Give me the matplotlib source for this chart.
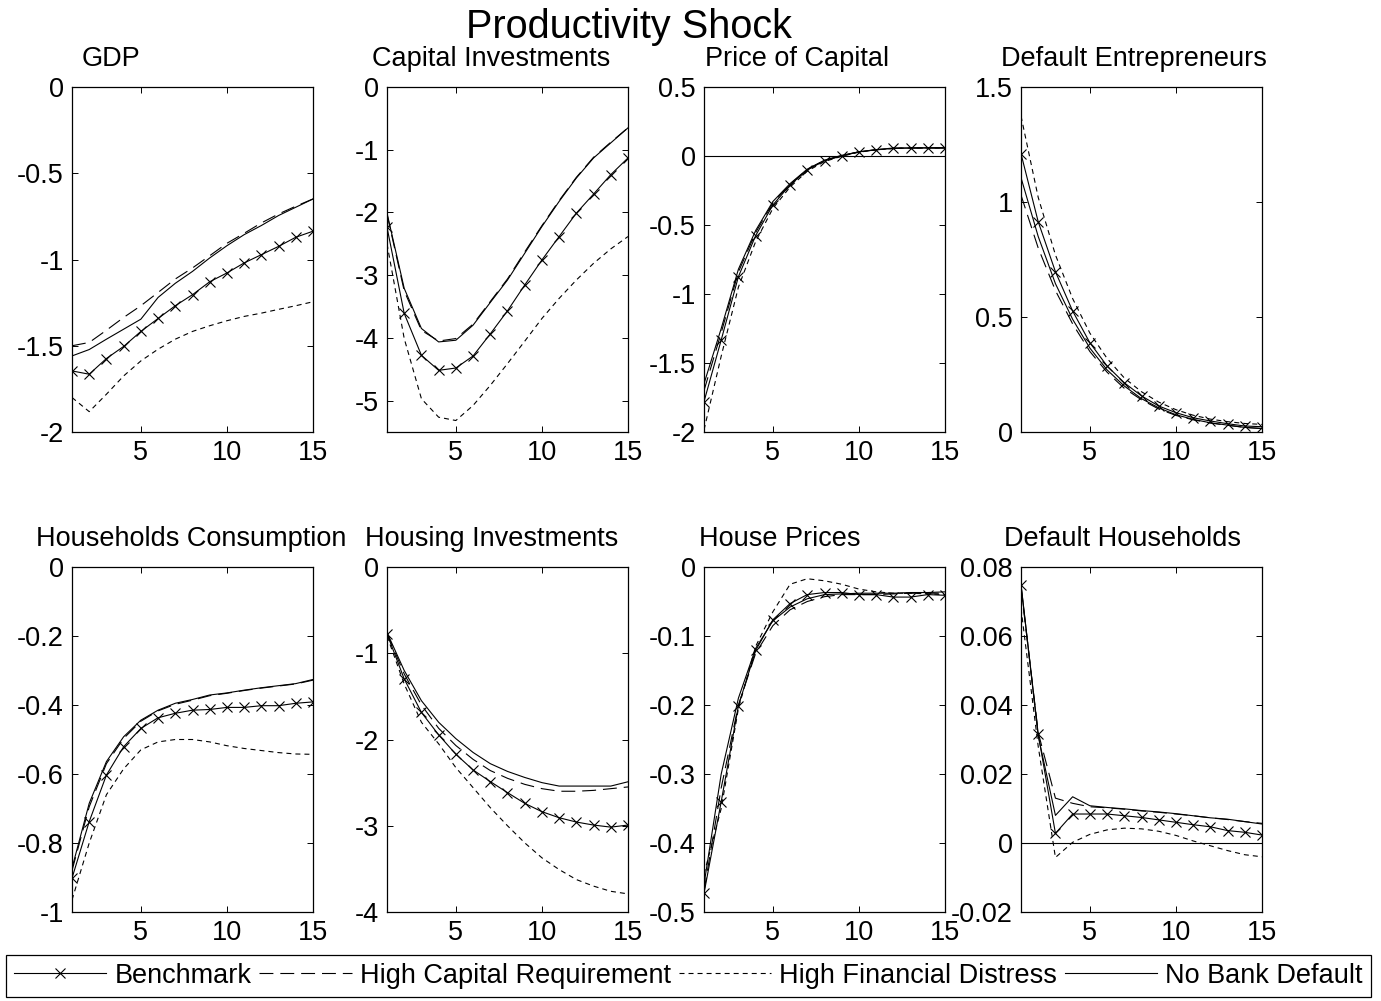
import numpy as np
import matplotlib
matplotlib.use("Agg")
import matplotlib.pyplot as plt
from matplotlib.ticker import FormatStrFormatter
from matplotlib.lines import Line2D

plt.rcParams['font.family'] = ['Liberation Sans', 'DejaVu Sans']
plt.rcParams['axes.unicode_minus'] = False
plt.rcParams['lines.scale_dashes'] = False

# horizonte de la respuesta (trimestres)
t = np.arange(1, 16)

series_names = ["Benchmark", "High Capital Requirement", "High Financial Distress", "No Bank Default"]

# --- respuestas al shock de productividad ---
gdp_bench = [-1.646, -1.665, -1.574, -1.504, -1.417, -1.342, -1.268, -1.204, -1.129, -1.078, -1.020, -0.972, -0.924, -0.871, -0.836]
gdp_hcr = [-1.500, -1.481, -1.410, -1.336, -1.268, -1.191, -1.113, -1.049, -0.978, -0.906, -0.848, -0.788, -0.736, -0.691, -0.649]
gdp_hfd = [-1.800, -1.882, -1.781, -1.675, -1.588, -1.520, -1.462, -1.417, -1.384, -1.355, -1.330, -1.311, -1.289, -1.268, -1.245]
gdp_nbd = [-1.559, -1.522, -1.462, -1.404, -1.346, -1.220, -1.138, -1.069, -0.991, -0.920, -0.856, -0.803, -0.745, -0.697, -0.649]

kinv_bench = [-2.235, -3.61, -4.277, -4.517, -4.48, -4.288, -3.936, -3.568, -3.157, -2.757, -2.384, -2.011, -1.707, -1.397, -1.131]
kinv_hcr = [-2.03, -3.25, -3.88, -4.05, -4.01, -3.78, -3.42, -3.06, -2.63, -2.21, -1.81, -1.44, -1.12, -0.88, -0.65]
kinv_hfd = [-2.5, -4.01, -4.97, -5.264, -5.317, -5.077, -4.757, -4.41, -4.053, -3.69, -3.37, -3.077, -2.811, -2.581, -2.384]
kinv_nbd = [-2.01, -3.21, -3.85, -4.064, -4.037, -3.797, -3.435, -3.077, -2.651, -2.224, -1.824, -1.451, -1.131, -0.891, -0.651]

pk_bench = [-1.78, -1.333, -0.874, -0.577, -0.355, -0.21, -0.101, -0.034, 0.0, 0.031, 0.046, 0.058, 0.058, 0.058, 0.058]
pk_hcr = [-1.70, -1.28, -0.84, -0.555, -0.34, -0.205, -0.098, -0.032, 0.002, 0.03, 0.045, 0.055, 0.058, 0.058, 0.058]
pk_hfd = [-1.985, -1.45, -0.95, -0.62, -0.38, -0.225, -0.11, -0.04, -0.002, 0.028, 0.044, 0.055, 0.058, 0.058, 0.058]
pk_nbd = [-1.65, -1.25, -0.82, -0.54, -0.33, -0.20, -0.095, -0.03, 0.005, 0.03, 0.045, 0.055, 0.058, 0.06, 0.06]

dent_bench = [1.21, 0.914, 0.697, 0.526, 0.388, 0.287, 0.214, 0.157, 0.113, 0.084, 0.062, 0.048, 0.036, 0.026, 0.023]
dent_hcr = [1.03, 0.80, 0.615, 0.47, 0.35, 0.26, 0.19, 0.14, 0.10, 0.072, 0.053, 0.039, 0.029, 0.02, 0.015]
dent_hfd = [1.374, 1.02, 0.77, 0.58, 0.43, 0.32, 0.235, 0.175, 0.13, 0.097, 0.073, 0.056, 0.045, 0.037, 0.033]
dent_nbd = [1.106, 0.85, 0.645, 0.49, 0.365, 0.27, 0.20, 0.145, 0.105, 0.075, 0.055, 0.04, 0.03, 0.02, 0.015]

cons_bench = [-0.902, -0.738, -0.603, -0.521, -0.468, -0.437, -0.424, -0.415, -0.413, -0.407, -0.407, -0.402, -0.402, -0.395, -0.391]
cons_hcr = [-0.88, -0.695, -0.57, -0.497, -0.447, -0.417, -0.398, -0.386, -0.373, -0.366, -0.358, -0.351, -0.345, -0.339, -0.328]
cons_hfd = [-0.965, -0.80, -0.66, -0.585, -0.53, -0.507, -0.50, -0.50, -0.507, -0.518, -0.526, -0.532, -0.538, -0.542, -0.543]
cons_nbd = [-0.873, -0.685, -0.564, -0.492, -0.444, -0.415, -0.395, -0.384, -0.371, -0.365, -0.357, -0.35, -0.344, -0.338, -0.326]

hinv_bench = [-0.775, -1.298, -1.686, -1.946, -2.171, -2.353, -2.488, -2.616, -2.74, -2.837, -2.907, -2.957, -2.992, -3.016, -2.992]
hinv_hcr = [-0.77, -1.24, -1.60, -1.87, -2.07, -2.23, -2.36, -2.45, -2.52, -2.57, -2.60, -2.60, -2.59, -2.57, -2.55]
hinv_hfd = [-0.80, -1.357, -1.80, -2.05, -2.326, -2.558, -2.79, -3.0, -3.198, -3.372, -3.508, -3.624, -3.70, -3.76, -3.79]
hinv_nbd = [-0.76, -1.20, -1.55, -1.80, -1.99, -2.15, -2.28, -2.37, -2.44, -2.50, -2.54, -2.54, -2.54, -2.54, -2.49]

hp_bench = [-0.473, -0.340, -0.201, -0.121, -0.0765, -0.053, -0.040, -0.037, -0.037, -0.040, -0.040, -0.0436, -0.0436, -0.040, -0.041]
hp_hcr = [-0.47, -0.32, -0.20, -0.125, -0.085, -0.062, -0.05, -0.043, -0.04, -0.04, -0.04, -0.039, -0.038, -0.038, -0.038]
hp_hfd = [-0.445, -0.35, -0.205, -0.115, -0.065, -0.025, -0.017, -0.02, -0.025, -0.032, -0.036, -0.038, -0.038, -0.039, -0.04]
hp_nbd = [-0.46, -0.30, -0.19, -0.118, -0.078, -0.058, -0.046, -0.04, -0.039, -0.038, -0.038, -0.038, -0.037, -0.037, -0.036]

dhh_bench = [0.0748, 0.0316, 0.0028, 0.0084, 0.0084, 0.0084, 0.0079, 0.0074, 0.0067, 0.006, 0.0053, 0.0047, 0.0036, 0.0031, 0.0023]
dhh_hcr = [0.074, 0.032, 0.013, 0.0115, 0.0105, 0.0102, 0.0098, 0.0093, 0.0089, 0.0084, 0.0079, 0.0073, 0.0068, 0.0062, 0.0057]
dhh_hfd = [0.068, 0.028, -0.0042, 0.0002, 0.0025, 0.0038, 0.0043, 0.0041, 0.0034, 0.0022, 0.0006, -0.0008, -0.0022, -0.0034, -0.004]
dhh_nbd = [0.075, 0.031, 0.008, 0.0134, 0.0108, 0.0103, 0.0099, 0.0094, 0.009, 0.0085, 0.0079, 0.0073, 0.0069, 0.0062, 0.0055]

titles = ["GDP", "Capital Investments", "Price of Capital", "Default Entrepreneurs",
          "Households Consumption", "Housing Investments", "House Prices", "Default Households"]
datos = [
    (gdp_bench, gdp_hcr, gdp_hfd, gdp_nbd),
    (kinv_bench, kinv_hcr, kinv_hfd, kinv_nbd),
    (pk_bench, pk_hcr, pk_hfd, pk_nbd),
    (dent_bench, dent_hcr, dent_hfd, dent_nbd),
    (cons_bench, cons_hcr, cons_hfd, cons_nbd),
    (hinv_bench, hinv_hcr, hinv_hfd, hinv_nbd),
    (hp_bench, hp_hcr, hp_hfd, hp_nbd),
    (dhh_bench, dhh_hcr, dhh_hfd, dhh_nbd),
]
ylims = [(-2, 0), (-5.5, 0), (-2, 0.5), (0, 1.5), (-1, 0), (-4, 0), (-0.5, 0), (-0.02, 0.08)]
yticks = [
    [-2, -1.5, -1, -0.5, 0],
    [-5, -4, -3, -2, -1, 0],
    [-2, -1.5, -1, -0.5, 0, 0.5],
    [0, 0.5, 1, 1.5],
    [-1, -0.8, -0.6, -0.4, -0.2, 0],
    [-4, -3, -2, -1, 0],
    [-0.5, -0.4, -0.3, -0.2, -0.1, 0],
    [-0.02, 0, 0.02, 0.04, 0.06, 0.08],
]
zero_line = [False, False, True, False, False, False, False, True]

# estilos de linea (en puntos)
estilos = [
    dict(linestyle='-', marker='x', markersize=7, markeredgewidth=0.8),
    dict(linestyle=(0, (10, 5))),
    dict(linestyle=(0, (3.6, 2.9))),
    dict(linestyle='-'),
]

W, H = 1381, 1001
fig = plt.figure(figsize=(W / 100, H / 100), dpi=100)

lefts = [72, 387, 704, 1021]
tops = [87, 567]
aw, ah = 241, 345
title_cx = [111, 491, 797, 1134, 191, 492, 780, 1122]

for i in range(8):
    fila, col = divmod(i, 4)
    ax = fig.add_axes([lefts[col] / W, 1 - (tops[fila] + ah) / H, aw / W, ah / H])
    if zero_line[i]:
        ax.axhline(0, color='black', lw=0.8)
    for serie, est in zip(datos[i], estilos):
        ax.plot(t, serie, color='black', lw=0.8, **est)
    ax.set_xlim(1, 15)
    ax.set_ylim(*ylims[i])
    ax.set_xticks([5, 10, 15])
    ax.set_yticks(yticks[i])
    ax.yaxis.set_major_formatter(FormatStrFormatter('%g'))
    ax.tick_params(direction='in', top=True, right=True, length=4, width=0.7,
                   labelsize=19.5, pad=6)
    for s in ax.spines.values():
        s.set_linewidth(0.9)
    ax.set_title(titles[i], fontsize=19.5, x=(title_cx[i] - lefts[col]) / aw, pad=15)

fig.text(629 / W, 1 - 38 / H, "Productivity Shock", fontsize=28.5, ha='center', va='baseline')

handles = [Line2D([], [], color='black', lw=0.8, **est) for est in estilos]
leg = fig.legend(handles, series_names, loc='lower left', bbox_to_anchor=(6 / W, 4 / H),
                 ncol=4, fontsize=19.5, handlelength=3.4, handletextpad=0.3,
                 columnspacing=0.3, borderpad=0.3, borderaxespad=0, fancybox=False,
                 framealpha=1, edgecolor='black', numpoints=1)
leg.get_frame().set_linewidth(0.9)

fig.savefig("out.png", dpi=100)
